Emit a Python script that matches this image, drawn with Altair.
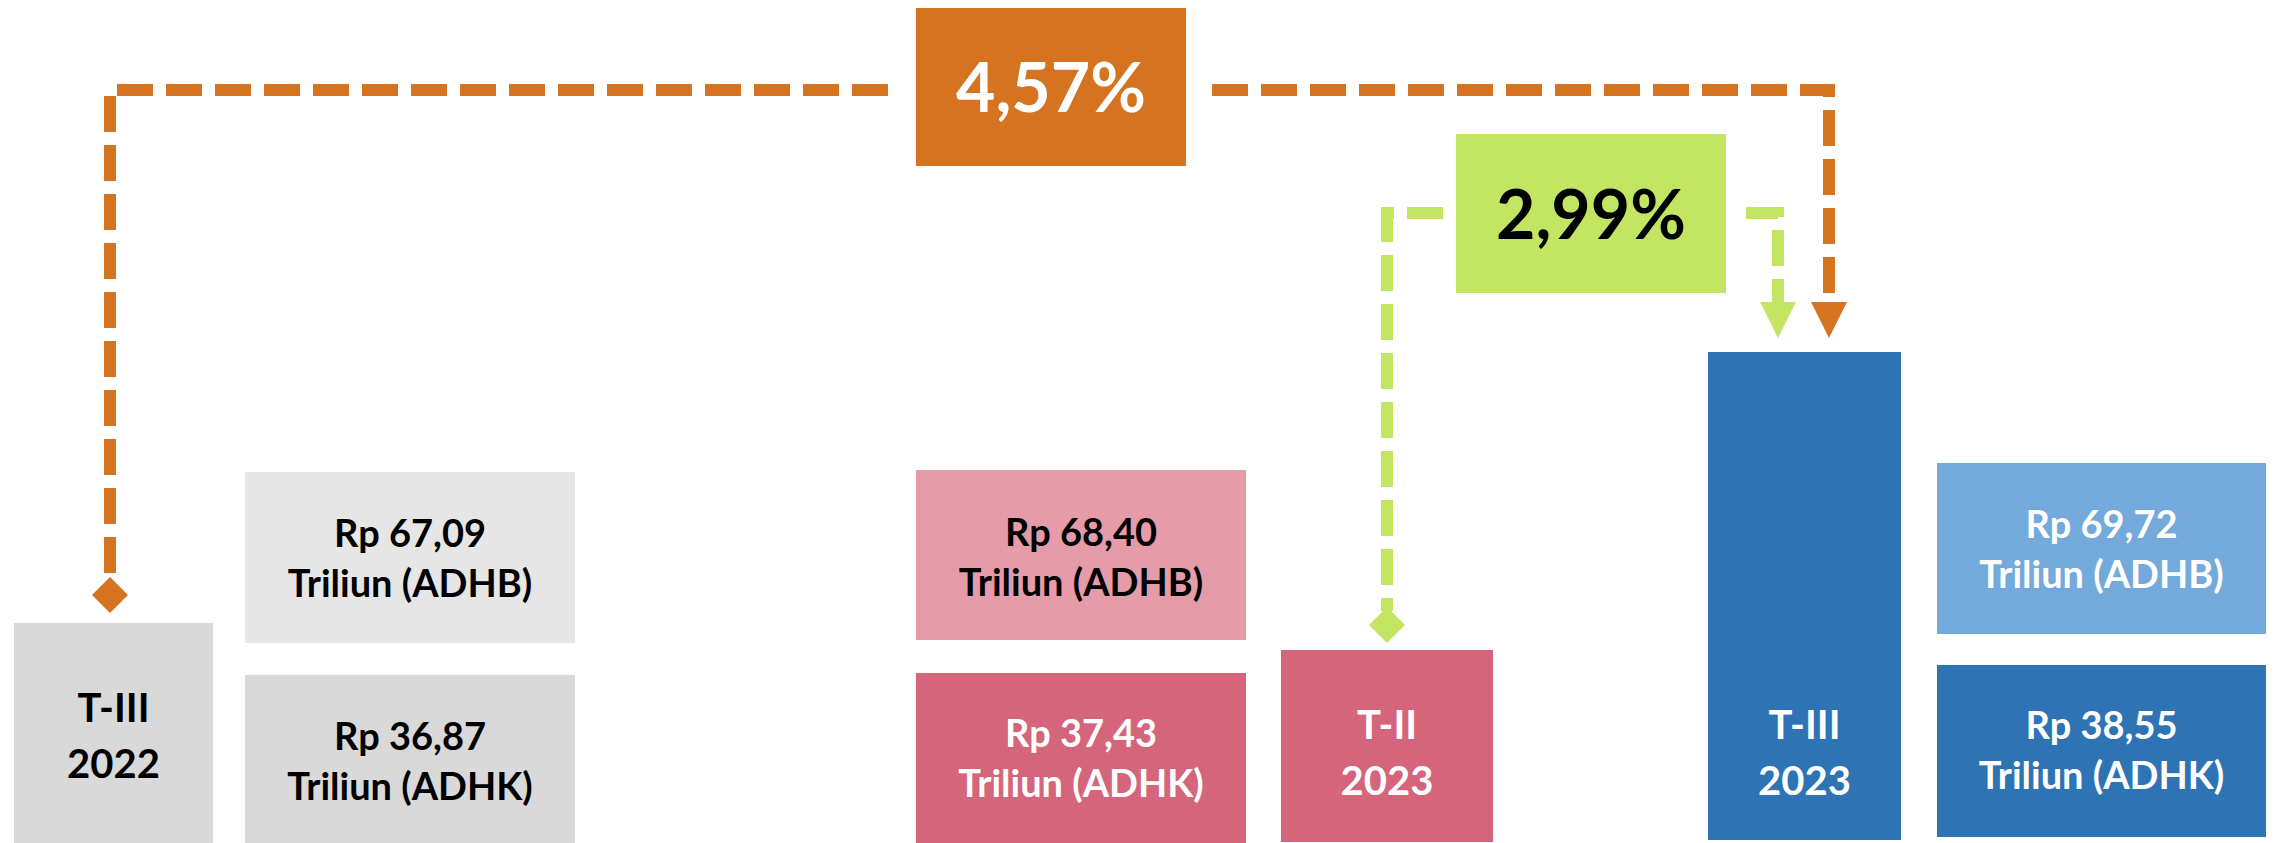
import altair as alt
import pandas as pd

# ---------------- data ----------------
periods = ["T-III\n2022", "T-II\n2023", "T-III\n2023"]
adhb = [67.09, 68.40, 69.72]          # Rp triliun, harga berlaku
adhk = [36.87, 37.43, 38.55]          # Rp triliun, harga konstan
growth_labels = ["y-on-y", "q-to-q"]
growth_values = [4.57, 2.99]          # persen

def rp(v, kind):
    return f"Rp {v:.2f}".replace(".", ",") + f"\nTriliun ({kind})"

def pct(v):
    return f"{v:.2f}".replace(".", ",") + "%"

# ---------------- layout (reference pixel space) ----------------
W, H = 2259, 835
xs = alt.Scale(domain=[8, 8 + W], nice=False, zero=False)
ys = alt.Scale(domain=[8 + H, 8], nice=False, zero=False)

# colours per period: (bar, adhb box, adhk box, bar text, adhb text, adhk text)
pal = [
    ("#D9D9D9", "#E6E6E6", "#D9D9D9", "black", "black", "black"),
    ("#D5657A", "#E59CA8", "#D5657A", "white", "black", "white"),
    ("#2E74B5", "#74A9DB", "#2E74B5", "white", "white", "white"),
]
bar_box = [(14, 623, 213, 845), (1281, 650, 1493, 842), (1708, 352, 1901, 840)]
adhb_box = [(245, 472, 575, 643), (916, 470, 1246, 640), (1937, 463, 2266, 634)]
adhk_box = [(245, 675, 575, 845), (916, 673, 1246, 845), (1937, 665, 2266, 837)]
# first-line baselines
bar_ty = [722, 739, 739]
adhb_ty = [547, 546, 538]
adhk_ty = [750, 747, 739]

rects, texts = [], []
for i in range(3):
    for box, col in ((bar_box[i], pal[i][0]), (adhb_box[i], pal[i][1]), (adhk_box[i], pal[i][2])):
        rects.append(dict(x=box[0], y=box[1], x2=box[2], y2=box[3], c=col))
    texts.append(dict(x=(bar_box[i][0] + bar_box[i][2]) / 2, y=bar_ty[i], t=periods[i],
                      c=pal[i][3], fs=40, lh=56))
    texts.append(dict(x=(adhb_box[i][0] + adhb_box[i][2]) / 2, y=adhb_ty[i], t=rp(adhb[i], "ADHB"),
                      c=pal[i][4], fs=38, lh=50))
    texts.append(dict(x=(adhk_box[i][0] + adhk_box[i][2]) / 2, y=adhk_ty[i], t=rp(adhk[i], "ADHK"),
                      c=pal[i][5], fs=38, lh=50))

ORANGE, GREEN = "#D67320", "#C3E662"
growth_box = [(916, 7, 1186, 166), (1456, 134, 1726, 293)]
growth_col = [ORANGE, GREEN]
growth_txt = ["white", "black"]
growth_ty = [112, 239]
for i in range(2):
    b = growth_box[i]
    rects.append(dict(x=b[0], y=b[1], x2=b[2], y2=b[3], c=growth_col[i]))
    texts.append(dict(x=(b[0] + b[2]) / 2, y=growth_ty[i], t=pct(growth_values[i]),
                      c=growth_txt[i], fs=68, lh=70))

rect_df = pd.DataFrame(rects)
text_df = pd.DataFrame(texts)

connectors = {
    "o_left": (ORANGE, [(888, 90), (110, 90), (110, 583)]),
    "o_right": (ORANGE, [(1212, 90), (1829, 90), (1829, 304)]),
    "g_left": (GREEN, [(1443, 213), (1387, 213), (1387, 611)]),
    "g_right": (GREEN, [(1746, 213), (1778, 213), (1778, 304)]),
}
line_rows = []
for k, (c, pts) in connectors.items():
    for j, (px, py) in enumerate(pts):
        line_rows.append(dict(id=k, c=c, o=j, x=px, y=py))
line_df = pd.DataFrame(line_rows)

arrow_df = pd.DataFrame([dict(x=1829, y=320, c=ORANGE), dict(x=1778, y=320, c=GREEN)])
diamond_df = pd.DataFrame([dict(x=110, y=595, c=ORANGE), dict(x=1387, y=625, c=GREEN)])

# ---------------- chart ----------------
X = lambda f: alt.X(f, type="quantitative", scale=xs, axis=None)
Y = lambda f: alt.Y(f, type="quantitative", scale=ys, axis=None)

boxes = alt.Chart(rect_df).mark_rect().encode(
    x=X("x"), x2="x2", y=Y("y"), y2="y2", color=alt.Color("c:N", scale=None))

lines = alt.Chart(line_df).mark_line(strokeWidth=12, strokeDash=[36, 13], strokeCap="butt",
                                     strokeJoin="miter").encode(
    x=X("x"), y=Y("y"), detail="id:N", order="o:Q", color=alt.Color("c:N", scale=None))

arrows = alt.Chart(arrow_df).mark_point(shape="M-1,-1L1,-1L0,1Z", size=1296, filled=True,
                                        opacity=1, strokeWidth=0).encode(
    x=X("x"), y=Y("y"), color=alt.Color("c:N", scale=None))

diamonds = alt.Chart(diamond_df).mark_point(shape="M0,-1L1,0L0,1L-1,0Z", size=1296, filled=True,
                                            opacity=1, strokeWidth=0).encode(
    x=X("x"), y=Y("y"), color=alt.Color("c:N", scale=None))

layers = [boxes, lines, arrows, diamonds]
for fs in sorted(text_df["fs"].unique()):
    sub = text_df[text_df["fs"] == fs]
    lh = int(sub["lh"].iloc[0])
    layers.append(
        alt.Chart(sub).mark_text(font="Lato", fontWeight="bold", fontSize=int(fs), lineHeight=lh,
                                 lineBreak="\n", align="center", baseline="alphabetic").encode(
            x=X("x"), y=Y("y"), text="t:N", color=alt.Color("c:N", scale=None)))

chart = alt.layer(*layers).properties(
    width=W, height=H, padding=0, autosize=alt.AutoSizeParams(type="none"),
    background="white",
).configure_view(stroke=None)

chart.save("out.html", embed_options={"renderer": "svg", "actions": False})
